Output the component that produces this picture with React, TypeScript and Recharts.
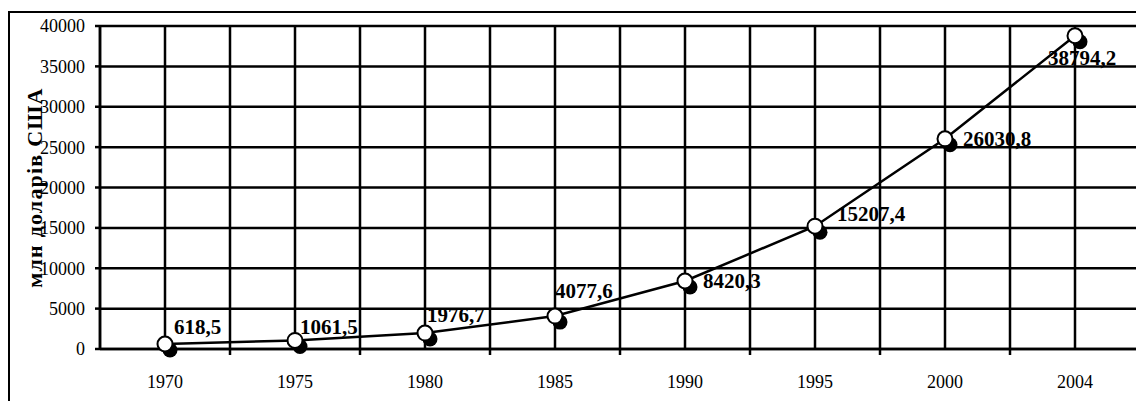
import React from 'react';
import { ComposedChart, Line, XAxis, YAxis, CartesianGrid, LabelList } from 'recharts';

const years = ['1970', '1975', '1980', '1985', '1990', '1995', '2000', '2004'];
const values = [618.5, 1061.5, 1976.7, 4077.6, 8420.3, 15207.4, 26030.8, 38794.2];
const valueLabels = ['618,5', '1061,5', '1976,7', '4077,6', '8420,3', '15207,4', '26030,8', '38794,2'];
const yTicks = [0, 5000, 10000, 15000, 20000, 25000, 30000, 35000, 40000];

// label offsets relative to each point (style only)
const labelOffsets: [number, number][] = [
  [9, -10], [5, -6], [2, -11], [0, -18], [18, 7], [22, -5], [18, 7], [-27, 29],
];

const data = years.map((y, i) => ({ idx: i, year: y, value: values[i], label: valueLabels[i] }));
const xTicks = years.flatMap((_, i) => [i - 0.5, i]).concat(years.length - 0.5);

const FONT = '"Liberation Serif", "Times New Roman", serif';
const SW = 2.5;

const XTick = (props: any) => {
  const { x, y, payload } = props;
  const v = payload.value;
  if (Number.isInteger(v)) {
    return (
      <text x={x} y={y + 38.5} textAnchor="middle" fontFamily={FONT} fontSize={18} fill="#000">
        {years[v]}
      </text>
    );
  }
  if (v <= -0.5) return null;
  return <line x1={x} x2={x} y1={y} y2={y + 6} stroke="#000" strokeWidth={SW} />;
};

const Dot = (props: any) => {
  const { cx, cy } = props;
  if (cx == null || cy == null) return null;
  return (
    <g>
      <circle cx={cx + 5} cy={cy + 6} r={7.5} fill="#000" />
      <circle cx={cx} cy={cy} r={7.5} fill="#fff" stroke="#000" strokeWidth={2} />
    </g>
  );
};

const ValueLabel = (props: any) => {
  const { x, y, index, value } = props;
  const [dx, dy] = labelOffsets[index] || [0, 0];
  return (
    <text x={x + dx} y={y + dy} fontFamily={FONT} fontSize={21} fontWeight="bold" fill="#000">
      {value}
    </text>
  );
};

const YLabel = (props: any) => {
  const { viewBox } = props;
  const cx = viewBox.x + 26;
  const cy = viewBox.y + viewBox.height / 2;
  return (
    <text
      x={cx}
      y={cy}
      transform={`rotate(-90, ${cx}, ${cy})`}
      textAnchor="middle"
      dominantBaseline="central"
      fontFamily={FONT}
      fontSize={22}
      fontWeight="bold"
      letterSpacing={1.2}
      fill="#000"
    >
      млн доларів США
    </text>
  );
};

const gridLine = { stroke: '#000', strokeWidth: SW };

export default function App() {
  return (
    <div style={{ position: 'relative', width: 1136, height: 401, overflow: 'hidden' }}>
      <style>{'html,body{margin:0;padding:0;overflow:hidden;}'}</style>
      <div
        style={{
          position: 'absolute',
          left: 8,
          top: 11,
          width: 1200,
          height: 500,
          borderLeft: '2px solid #000',
          borderTop: '2px solid #000',
          boxSizing: 'border-box',
        }}
      />
      <div style={{ position: 'absolute', left: 8, top: 8 }}>
        <ComposedChart
          width={1140}
          height={391}
          data={data}
          margin={{ top: 18, right: 8, bottom: 0, left: 0 }}
        >
          <CartesianGrid
            stroke="#000"
            strokeWidth={SW}
            strokeDasharray=""
            horizontal={gridLine}
            vertical={gridLine}
          />
          <XAxis
            dataKey="idx"
            type="number"
            domain={[-0.5, years.length - 0.5]}
            ticks={xTicks}
            interval={0}
            tick={<XTick />}
            tickLine={false}
            tickSize={0}
            tickMargin={0}
            axisLine={{ stroke: '#000', strokeWidth: SW }}
            height={50}
            allowDecimals
          />
          <YAxis
            type="number"
            domain={[0, 40000]}
            ticks={yTicks}
            interval={0}
            width={92}
            tickSize={5}
            tickMargin={10}
            axisLine={{ stroke: '#000', strokeWidth: SW }}
            tickLine={{ stroke: '#000', strokeWidth: SW }}
            tick={{ fill: '#000', fontFamily: FONT, fontSize: 18 }}
            label={<YLabel />}
          />
          <Line
            dataKey="value"
            type="linear"
            stroke="#000"
            strokeWidth={SW}
            dot={<Dot />}
            activeDot={false}
            isAnimationActive={false}
          >
            <LabelList dataKey="label" content={<ValueLabel />} />
          </Line>
        </ComposedChart>
      </div>
    </div>
  );
}
